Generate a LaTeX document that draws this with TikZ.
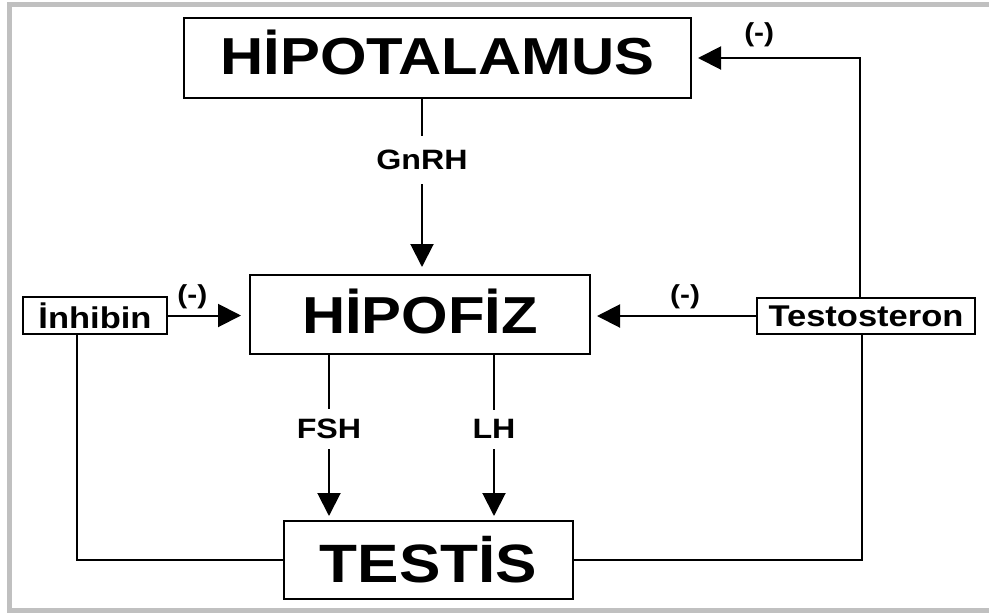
\documentclass[tikz,border=0pt]{standalone}
\usepackage{fontspec}
\setmainfont{Liberation Sans}[FakeStretch=1.15]
\usetikzlibrary{arrows.meta,positioning}
\definecolor{framegray}{RGB}{192,192,192}
\begin{document}
\begin{tikzpicture}[x=1pt, y=-1pt, line width=2pt, >={Triangle[length=23pt,width=23pt]},
  main/.style = {draw, rectangle, inner sep=0pt, font=\bfseries\fontsize{52}{60}\selectfont},
  small/.style = {draw, rectangle, inner sep=0pt, minimum height=37pt, font=\bfseries\fontsize{30}{34}\selectfont},
  hormon/.style = {fill=white, inner xsep=4pt, inner ysep=10pt, font=\bfseries\fontsize{28}{30}\selectfont},
  neg/.style = {inner sep=0pt, font=\bfseries\fontsize{26}{30}\selectfont}]
\useasboundingbox (0,0) rectangle (989,614);
\draw[framegray, line width=5pt] (989,4.5) -- (9.5,4.5) -- (9.5,610) -- (989,610);
\node[main, minimum width=507pt, minimum height=80pt, text depth=12pt] (hipo) at (437.5,58) {HİPOTALAMUS};
\node[main, minimum width=340pt, minimum height=79pt, text depth=6pt] (hipofiz) at (420,314.5) {HİPOFİZ};
\node[main, minimum width=289pt, minimum height=78pt, font=\bfseries\fontsize{54}{60}\selectfont] (testis) at (428.5,560) {TESTİS};
\node[small, minimum width=144pt] (inhibin) at (95,315.5) {İnhibin};
\node[small, minimum width=218pt, minimum height=36pt] (testo) at (866,316) {Testosteron};
\draw[->, shorten >=7pt] ([xshift=-15.5pt]hipo.south) -- node[hormon, pos=0.35, inner ysep=14pt] {GnRH} ([xshift=2pt]hipofiz.north);
\draw[->, shorten >=4pt] ([xshift=-91pt]hipofiz.south) -- node[hormon, pos=0.45] {FSH} ([xshift=-99.5pt]testis.north);
\draw[->, shorten >=4pt] ([xshift=74pt]hipofiz.south) -- node[hormon, pos=0.45] {LH} ([xshift=65.5pt]testis.north);
\draw[->, shorten >=8pt] (inhibin) -- (inhibin -| hipofiz.west) node[neg, pos=0.3, above=6pt] {(-)};
\draw[->, shorten >=6pt] (testo) -- (testo -| hipofiz.east) node[neg, pos=0.43, above=6pt] {(-)};
\draw[->, shorten >=6pt] ([xshift=-6pt]testo.north) |- (hipo.east) node[neg, pos=0.8, above=10pt] {(-)};
\draw ([xshift=-4pt]testo.south) |- (testis.east);
\draw ([xshift=-18pt]inhibin.south) |- (testis.west);
\end{tikzpicture}
\end{document}
